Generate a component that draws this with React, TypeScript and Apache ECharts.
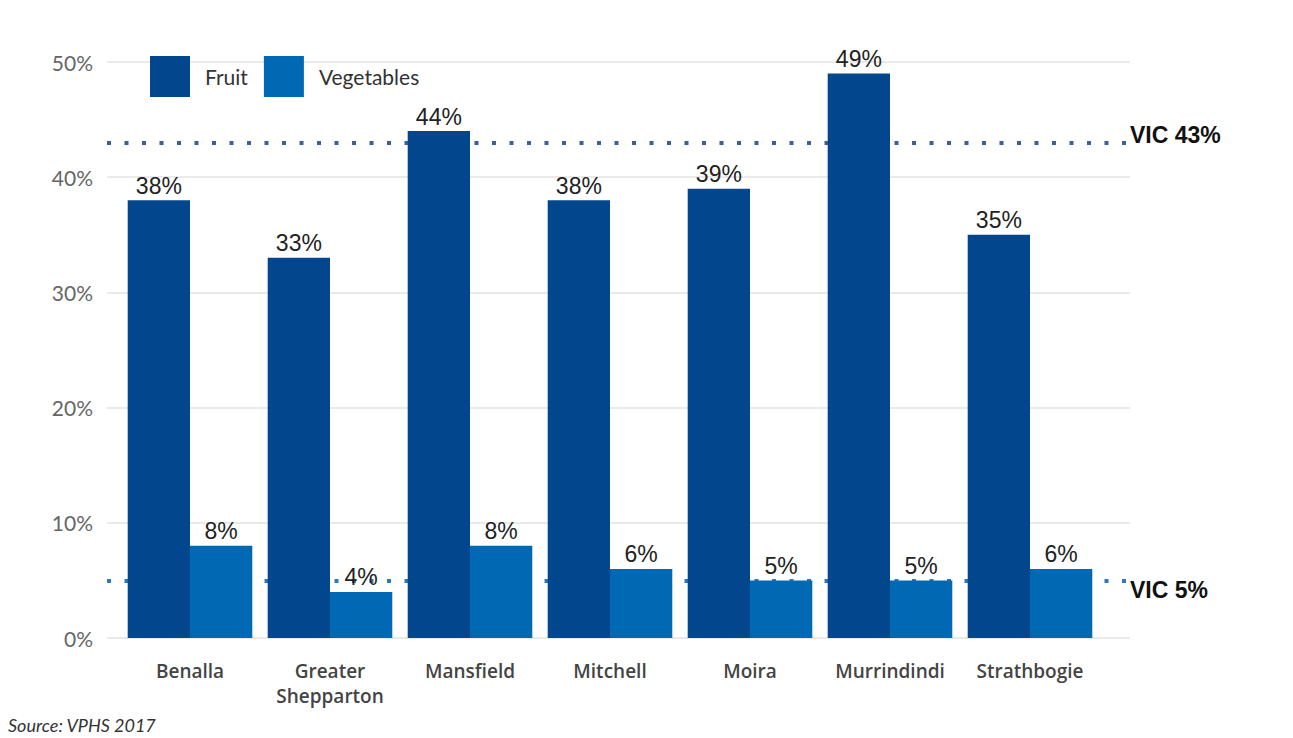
import React, { useEffect, useRef } from "react";
import * as echarts from "echarts";

const categories = ["Benalla", "Greater\nShepparton", "Mansfield", "Mitchell", "Moira", "Murrindindi", "Strathbogie"];
const fruit = [38, 33, 44, 38, 39, 49, 35];
const vegetables = [8, 4, 8, 6, 5, 5, 6];
const vicFruit = 43;
const vicVeg = 5;
const yTicks = [0, 10, 20, 30, 40, 50];

export default function App() {
  const ref = useRef<HTMLDivElement>(null);
  useEffect(() => {
    const chart = echarts.init(ref.current!, null, { renderer: "svg" });
    const labelStyle = {
      show: true,
      position: "top" as const,
      distance: 3,
      formatter: "{c}%",
      fontFamily: "Liberation Sans, Arial, sans-serif",
      fontSize: 23,
      color: "#222",
    };
    const vicLine = (v: number, color: string, dy: number) => ({
      silent: true,
      symbol: "none",
      z: 1,
      label: {
        show: true,
        position: "end",
        distance: 0,
        offset: [0, dy],
        formatter: "VIC " + v + "%",
        fontFamily: "Liberation Sans, Arial, sans-serif",
        fontWeight: "bold",
        fontSize: 23,
        color: "#111",
      },
      lineStyle: { color, width: 4, type: [4, 13.5], cap: "butt" },
      data: [{ yAxis: v }],
    });
    chart.setOption({
      animation: false,
      backgroundColor: "#fff",
      grid: [
        { left: 107, right: 163, top: 62, bottom: 100 },
        { left: 120, right: 193, top: 62, bottom: 100 },
      ],
      legend: {
        left: 150,
        top: 56,
        padding: 0,
        itemWidth: 40,
        itemHeight: 41,
        itemGap: 16,
        icon: "rect",
        data: ["Fruit", "Vegetables"],
        textStyle: {
          fontFamily: "Lato, 'Open Sans', sans-serif",
          fontSize: 21,
          color: "#333",
          padding: [0, 0, 0, 10],
        },
      },
      xAxis: [
        { type: "value", gridIndex: 0, min: 0, max: 1, show: false },
        {
          type: "category",
          gridIndex: 1,
          data: categories,
          axisLine: { show: false },
          axisTick: { show: false },
          axisLabel: {
            interval: 0,
            margin: 20,
            fontFamily: "'Open Sans', Lato, sans-serif",
            fontWeight: 600,
            fontSize: 19,
            lineHeight: 25,
            color: "#444",
          },
        },
      ],
      yAxis: [
        {
          type: "value",
          gridIndex: 0,
          min: yTicks[0],
          max: yTicks[yTicks.length - 1],
          interval: 10,
          axisLine: { show: false },
          axisTick: { show: false },
          axisLabel: {
            formatter: "{value}%",
            margin: 14,
            fontFamily: "Lato, 'Open Sans', sans-serif",
            fontSize: 21,
            color: "#666",
          },
          splitLine: { lineStyle: { color: "#e3e3e3", width: 1.5 } },
        },
        { type: "value", gridIndex: 1, min: 0, max: 50, interval: 10, show: false },
      ],
      series: [
        {
          name: "vic",
          type: "line",
          xAxisIndex: 0,
          yAxisIndex: 0,
          data: [],
          z: 1,
          markLine: vicLine(vicFruit, "#3d5f99", -8),
        },
        {
          name: "vic5",
          type: "line",
          xAxisIndex: 0,
          yAxisIndex: 0,
          data: [],
          z: 1,
          markLine: vicLine(vicVeg, "#2c78c2", 10),
        },
        {
          name: "Fruit",
          type: "bar",
          xAxisIndex: 1,
          yAxisIndex: 1,
          data: fruit,
          z: 3,
          barGap: "0%",
          barCategoryGap: "11%",
          itemStyle: { color: "#02478e" },
          label: labelStyle,
        },
        {
          name: "Vegetables",
          type: "bar",
          xAxisIndex: 1,
          yAxisIndex: 1,
          data: vegetables,
          z: 3,
          itemStyle: { color: "#0168b3" },
          label: labelStyle,
        },
      ],
      graphic: [
        {
          type: "text",
          left: 8,
          top: 716,
          style: {
            text: "Source: VPHS 2017",
            font: "italic 18px Lato, 'Open Sans', sans-serif",
            fill: "#333",
          },
        },
      ],
    });
    return () => chart.dispose();
  }, []);
  return <div ref={ref} style={{ width: 1293, height: 738, position: "absolute", left: 0, top: 0 }} />;
}
